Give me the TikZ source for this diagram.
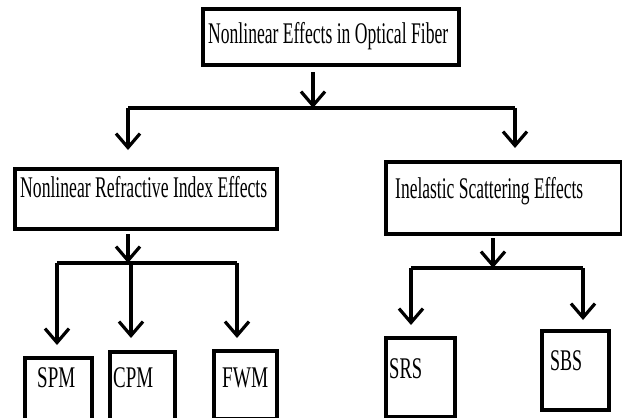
\documentclass[tikz,border=0pt]{standalone}
\usepackage{graphicx}
\usepackage{fontspec}
\setmainfont{Liberation Serif}
\usetikzlibrary{arrows.meta}
\newcommand\fitw[2]{\resizebox{#1}{\height}{#2}}
\tikzset{
  box/.style={draw, line width=4pt, inner sep=0pt, anchor=north west},
  txt/.style={inner sep=0pt, anchor=base west, font=\fontsize{30}{32}\selectfont},
  conn/.style={line width=3.2pt},
  arr/.style={line width=3.2pt, -{Straight Barb[length=14pt,width=24pt]}}
}
\begin{document}
\begin{tikzpicture}[x=1pt,y=-1pt]
\clip (0,0) rectangle (622,418);
\fill[white] (0,0) rectangle (622,418);
% boxes
\node[box, minimum width=256pt, minimum height=56pt] (top) at (201,7) {};
\node[box, minimum width=262pt, minimum height=60pt] (nri) at (13,167) {};
\node[box, minimum width=236pt, minimum height=72pt] (ise) at (384,160) {};
\node[box, minimum width=67pt, minimum height=80pt] (spm) at (23,356) {};
\node[box, minimum width=65pt, minimum height=80pt] (cpm) at (108,350) {};
\node[box, minimum width=63pt, minimum height=68pt] (fwm) at (212,349) {};
\node[box, minimum width=69pt, minimum height=79pt] (srs) at (384,336) {};
\node[box, minimum width=67pt, minimum height=79pt] (sbs) at (540,329) {};
% texts
\node[txt] (ttop) at (208,43) {\fitw{240pt}{Nonlinear Effects in Optical Fiber}};
\node[txt] (tnri) at (20,197) {\fitw{247pt}{Nonlinear Refractive Index Effects}};
\node[txt] (tise) at (395,198) {\fitw{188pt}{Inelastic Scattering Effects}};
\node[txt] (tspm) at (37,387) {\fitw{38pt}{SPM}};
\node[txt] (tcpm) at (113,387) {\fitw{40pt}{CPM}};
\node[txt] (tfwm) at (222,387) {\fitw{46pt}{FWM}};
\node[txt] (tsrs) at (389,378) {\fitw{33pt}{SRS}};
\node[txt] (tsbs) at (550,370) {\fitw{32pt}{SBS}};
% level 1
\coordinate (a1) at (313,108);
\coordinate (b1L) at (128,108);
\coordinate (b1R) at (515,108);
\draw[arr, shorten <=5pt] (a1 |- top.south) -- (a1);
\draw[conn] (b1L) -- (b1R);
\draw[arr, shorten >=17pt] (b1L) -- (b1L |- nri.north);
\draw[arr, shorten >=12pt] (b1R) -- (b1R |- ise.north);
% left group
\coordinate (a2) at (128,263);
\coordinate (b2L) at (57,263);
\coordinate (b2M) at (131,263);
\coordinate (b2R) at (237,263);
\draw[arr, shorten <=3pt] (a2 |- nri.south) -- (a2);
\draw[conn] (b2L) -- (b2R);
\draw[arr, shorten >=11pt] (b2L) -- (b2L |- spm.north);
\draw[arr, shorten >=12pt] (b2M) -- (b2M |- cpm.north);
\draw[arr, shorten >=11pt] (b2R) -- (b2R |- fwm.north);
% right group
\coordinate (a3) at (493,268);
\coordinate (b3L) at (411,268);
\coordinate (b3R) at (583,268);
\draw[arr, shorten <=2pt] (a3 |- ise.south) -- (a3);
\draw[conn] (b3L) -- (b3R);
\draw[arr, shorten >=11pt] (b3L) -- (b3L |- srs.north);
\draw[arr, shorten >=9pt] (b3R) -- (b3R |- sbs.north);
\end{tikzpicture}
\end{document}
